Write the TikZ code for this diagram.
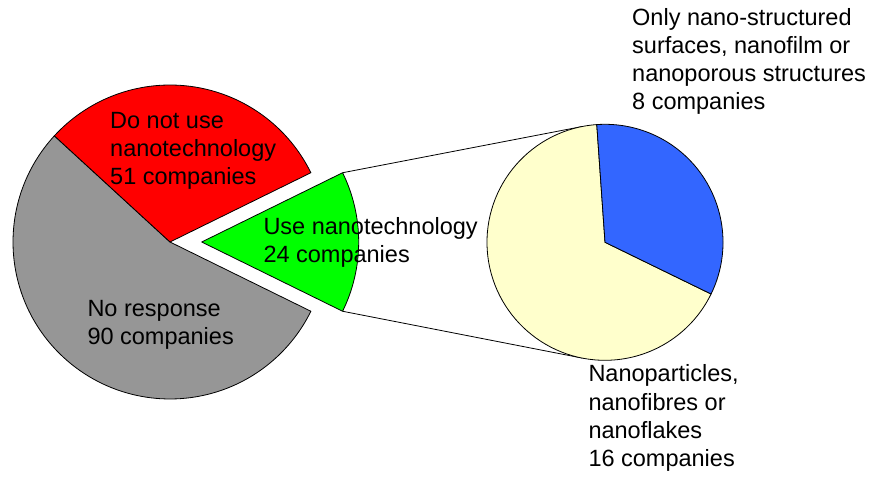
\documentclass[tikz,border=0pt]{standalone}
\usepackage{fontspec}
\setmainfont{Liberation Sans}
\usetikzlibrary{calc}
\definecolor{pgray}{HTML}{969696}
\definecolor{pred}{HTML}{FF0000}
\definecolor{pgreen}{HTML}{00FF00}
\definecolor{pblue}{HTML}{3366FF}
\definecolor{pyellow}{HTML}{FFFFCC}
\begin{document}
\begin{tikzpicture}[x=1pt,y=1pt,
  slice/.style={draw=black,line width=0.8pt,line join=round},
  conn/.style={draw=black,line width=0.8pt},
  lbl/.style={inner sep=0pt,anchor=base west,align=left,
    font=\fontsize{23.5}{28.3}\selectfont}]
\useasboundingbox (0,0) rectangle (874,476);
% left pie
\coordinate (lc) at (170,234);
\coordinate (gc) at (201.7,234);
\fill[white] (0,0) rectangle (874,476);
\filldraw[slice,fill=pgray] (lc) -- ++(137.45:157) arc[start angle=137.45,end angle=333.82,radius=157] -- cycle;
\filldraw[slice,fill=pred] (lc) -- ++(26.18:157) arc[start angle=26.18,end angle=137.45,radius=157] -- cycle;
\filldraw[slice,fill=pgreen] (gc) -- ++(-26.18:157) coordinate (gb) arc[start angle=-26.18,end angle=26.18,radius=157] coordinate (gt) -- cycle;
% right pie
\node[circle,minimum size=236pt,inner sep=0pt,outer sep=0pt] (rp) at (605,233.7) {};
\draw[conn] (gt) -- (tangent cs:node=rp,point={(gt)},solution=2);
\draw[conn] (gb) -- (tangent cs:node=rp,point={(gb)},solution=1);
\filldraw[slice,fill=pyellow] (rp.center) -- ++(94:118) arc[start angle=94,end angle=334,radius=118] -- cycle;
\filldraw[slice,fill=pblue] (rp.center) -- ++(-26:118) arc[start angle=-26,end angle=94,radius=118] -- cycle;
% labels (anchor = baseline of last line)
\node[lbl] (t1) at (110,291) {Do not use\\nanotechnology\\51 companies};
\node[lbl] (t2) at (87.3,131) {No response\\90 companies};
\node[lbl] (t3) at (263.3,213) {Use nanotechnology\\24 companies};
\node[lbl] (t4) at (632,366) {Only nano-structured\\surfaces, nanofilm or\\nanoporous structures\\8 companies};
\node[lbl] (t5) at (588.3,9.3) {Nanoparticles,\\nanofibres or\\nanoflakes\\16 companies};
\end{tikzpicture}
\end{document}
